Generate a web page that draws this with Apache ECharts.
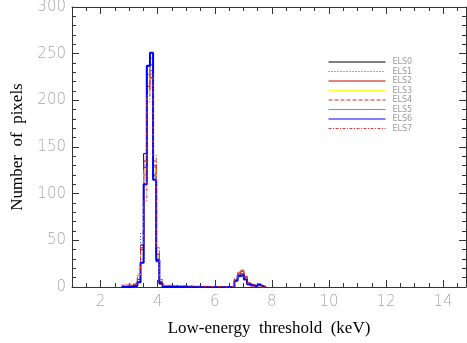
<!DOCTYPE html>
<html>
<head>
<meta charset="utf-8">
<script src="https://cdn.jsdelivr.net/npm/echarts@6/dist/echarts.min.js"></script>
<style>
  html, body { margin: 0; padding: 0; background: #fff; }
  #chart { width: 467px; height: 343px; }
</style>
</head>
<body>
<div id="chart"></div>
<script>
// Low-energy threshold histograms for the eight ELS channels (bin width 0.11 keV)
const channelNames = ['ELS0', 'ELS1', 'ELS2', 'ELS3', 'ELS4', 'ELS5', 'ELS6', 'ELS7'];

// Left bin edges (keV) of the main peak region and of the secondary bump
const peakEdges = [2.74, 2.85, 2.96, 3.07, 3.18, 3.29, 3.40, 3.51, 3.62, 3.73, 3.84, 3.95, 4.06, 4.17, 4.28];
const bumpEdges = [6.58, 6.69, 6.80, 6.91, 7.02, 7.13, 7.24, 7.35, 7.46, 7.57, 7.68, 7.79];

// Counts per channel in the main peak region
const peakELS0 = [0, 0, 1, 1, 2, 5, 45, 143, 237, 224, 120, 27, 3, 0, 0];
const peakELS1 = [1, 2, 3, 2, 4, 14, 58, 130, 198, 215, 128, 32, 5, 1, 0];
const peakELS2 = [0, 1, 1, 2, 3, 8, 40, 135, 215, 238, 130, 35, 5, 1, 0];
const peakELS3 = [0, 0, 1, 1, 3, 6, 35, 125, 220, 240, 125, 32, 4, 0, 0];
const peakELS4 = [1, 2, 1, 3, 4, 10, 42, 128, 210, 232, 135, 38, 6, 1, 0];
const peakELS5 = [0, 0, 1, 1, 2, 6, 30, 120, 228, 245, 118, 30, 3, 0, 0];
const peakELS6 = [0, 0, 0, 1, 1, 5, 26, 110, 237, 251, 115, 29, 4, 0, 0];
const peakELS7 = [2, 3, 2, 4, 3, 12, 46, 92, 205, 228, 141, 42, 8, 2, 0];

// Counts per channel in the secondary bump
const bumpELS0 = [0, 6, 11, 14, 9, 4, 2, 1, 2, 1, 0, 0];
const bumpELS1 = [1, 8, 13, 15, 10, 3, 2, 2, 1, 1, 0, 0];
const bumpELS2 = [0, 7, 14, 17, 11, 4, 1, 1, 2, 0, 0, 0];
const bumpELS3 = [0, 5, 10, 13, 9, 3, 2, 1, 1, 0, 0, 0];
const bumpELS4 = [1, 9, 15, 18, 12, 5, 2, 1, 1, 1, 0, 0];
const bumpELS5 = [0, 6, 11, 12, 8, 3, 1, 1, 2, 1, 0, 0];
const bumpELS6 = [0, 7, 12, 13, 8, 3, 2, 1, 3, 1, 0, 0];
const bumpELS7 = [1, 8, 16, 18, 10, 4, 3, 2, 1, 1, 0, 0];

const peakCounts = [peakELS0, peakELS1, peakELS2, peakELS3, peakELS4, peakELS5, peakELS6, peakELS7];
const bumpCounts = [bumpELS0, bumpELS1, bumpELS2, bumpELS3, bumpELS4, bumpELS5, bumpELS6, bumpELS7];

// Axis ticks
const xMajorTicks = [2, 4, 6, 8, 10, 12, 14];
const xMinorTicks = [1.5, 2.5, 3, 3.5, 4.5, 5, 5.5, 6.5, 7, 7.5, 8.5, 9, 9.5, 10.5, 11, 11.5, 12.5, 13, 13.5, 14.5];

const lineStyles = [
  { color: '#000000', width: 1, type: 'solid' },
  { color: '#555555', width: 1, type: [1, 2] },
  { color: '#c80000', width: 1, type: 'solid' },
  { color: '#ffff30', width: 1, type: 'solid' },
  { color: '#c83220', width: 1, type: [4, 2] },
  { color: '#8080ff', width: 1, type: 'solid' },
  { color: '#0000ff', width: 2, type: 'solid' },
  { color: '#e03c3c', width: 1, type: [3, 1.5, 1, 1.5] }
];

function stepData(i) {
  const pts = [];
  peakEdges.forEach((x, k) => pts.push([x, peakCounts[i][k]]));
  bumpEdges.forEach((x, k) => pts.push([x, bumpCounts[i][k]]));
  return pts;
}

const series = channelNames.map((name, i) => ({
  name: name,
  type: 'line',
  step: 'end',
  xAxisIndex: 0,
  yAxisIndex: 0,
  symbol: 'none',
  silent: true,
  animation: false,
  lineStyle: lineStyles[i],
  itemStyle: { color: lineStyles[i].color },
  data: stepData(i)
}));

const axisColor = '#333333';
const labelFont = { color: '#a8a8a8', fontFamily: 'DejaVu Sans', fontSize: 15, fontWeight: 300 };

function xAxisDef(position, ticks, len, showLine, showLabel) {
  return {
    type: 'value', position: position, min: 1, max: 14.8,
    axisLine: { show: showLine, onZero: false, lineStyle: { color: axisColor, width: 1 } },
    axisTick: { show: true, inside: true, length: len, customValues: ticks, lineStyle: { color: axisColor } },
    axisLabel: Object.assign({ show: showLabel, customValues: xMajorTicks, margin: 8 }, labelFont),
    splitLine: { show: false }
  };
}

const chart = echarts.init(document.getElementById('chart'), null, { renderer: 'canvas' });
chart.setOption({
  backgroundColor: '#ffffff',
  animation: false,
  grid: { left: 72, right: 1, top: 7, bottom: 56, containLabel: false, outerBoundsMode: 'none' },
  legend: {
    orient: 'vertical',
    left: 323,
    top: 53,
    itemWidth: 57,
    itemHeight: 9,
    itemGap: 1.5,
    data: channelNames,
    itemStyle: { opacity: 0 },
    lineStyle: { width: 1 },
    textStyle: { color: '#9a9a9a', fontSize: 8, fontFamily: 'DejaVu Sans', padding: [0, 0, 0, 2] },
    selectedMode: false
  },
  xAxis: [
    Object.assign(xAxisDef('bottom', xMajorTicks, 7, true, true), {
      name: 'Low-energy  threshold  (keV)',
      nameLocation: 'middle',
      nameGap: 33,
      nameTextStyle: { color: '#000', fontFamily: 'Liberation Serif', fontSize: 17 }
    }),
    xAxisDef('bottom', xMinorTicks, 4, false, false),
    xAxisDef('top', xMajorTicks, 7, true, false),
    xAxisDef('top', xMinorTicks, 4, false, false)
  ],
  yAxis: [
    {
      type: 'value', position: 'left', min: 0, max: 300, interval: 50,
      name: 'Number  of  pixels',
      nameLocation: 'middle',
      nameGap: 42,
      nameRotate: 90,
      nameTextStyle: { color: '#000', fontFamily: 'Liberation Serif', fontSize: 17 },
      axisLine: { show: true, lineStyle: { color: axisColor, width: 1 } },
      axisTick: { show: true, inside: true, length: 7, lineStyle: { color: axisColor } },
      minorTick: { show: true, splitNumber: 5, length: 4, lineStyle: { color: axisColor } },
      axisLabel: Object.assign({ margin: 6 }, labelFont),
      splitLine: { show: false }
    },
    {
      type: 'value', position: 'right', min: 0, max: 300, interval: 50,
      axisLine: { show: true, lineStyle: { color: axisColor, width: 1 } },
      axisTick: { show: true, inside: true, length: 7, lineStyle: { color: axisColor } },
      minorTick: { show: true, splitNumber: 5, length: 4, lineStyle: { color: axisColor } },
      axisLabel: { show: false },
      splitLine: { show: false }
    }
  ],
  series: series
});
</script>
</body>
</html>
